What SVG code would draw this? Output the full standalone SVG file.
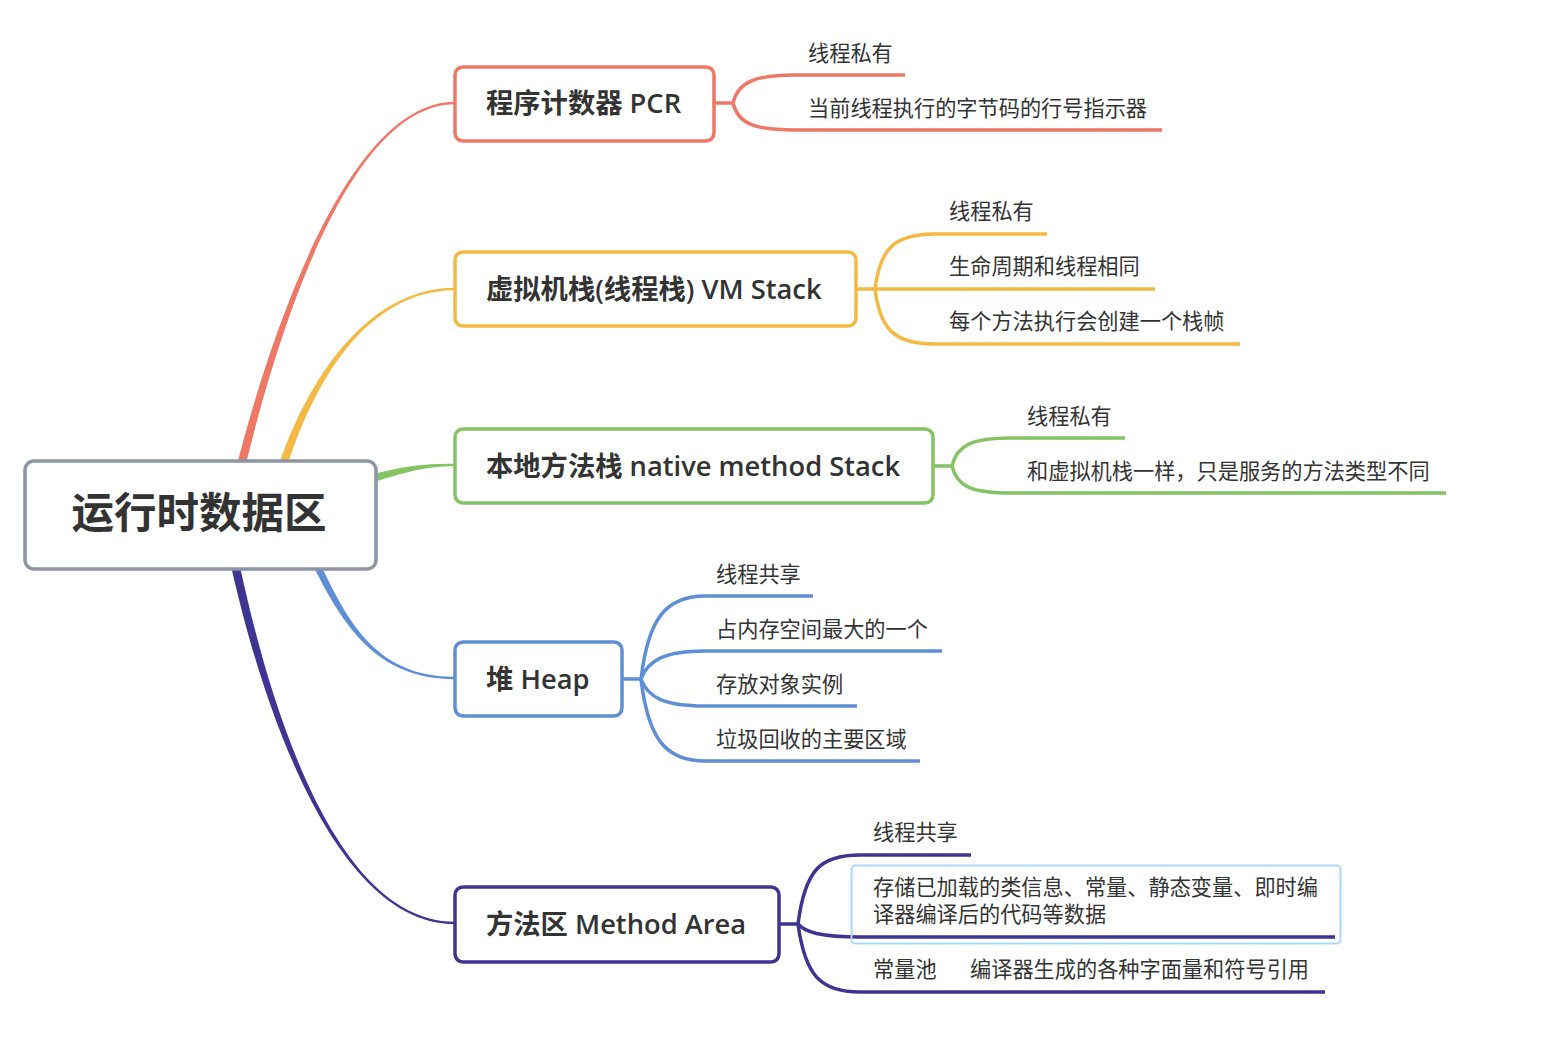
<svg xmlns="http://www.w3.org/2000/svg" width="1556" height="1042" viewBox="0 0 1556 1042">
<style>
.t{font-family:"Open Sans","Noto Sans CJK SC",sans-serif;fill:#333333}
.main{font-size:27.3px;font-weight:600}
.sub{font-size:21.2px}
.root{font-size:42.5px;font-weight:700}
.box{fill:#ffffff;stroke-width:3.5}
.ln{fill:none;stroke-width:3.5}
</style>
<rect width="1556" height="1042" fill="#ffffff"/>
<g id="connectors">
  <path d="M234.4 514.8 C254.4 420.8 330 104.2 455 104.2 L455 101.8 C330 101.8 245.6 419.2 225.6 513.2 Z" fill="#EE7766"/>
  <path d="M274.4 514.8 C294.4 420.8 350 290.2 455 290.2 L455 287.8 C350 287.8 285.6 419.2 265.6 513.2 Z" fill="#F4B942"/>
  <path d="M351.2 488.8 C401.2 473.8 420 466.2 455 466.2 L455 463.8 C420 463.8 398.8 466.2 348.8 481.2 Z" fill="#84C463"/>
  <path d="M291.4 521.8 C331.4 601.8 360 679.2 455 679.2 L455 676.8 C360 676.8 338.6 598.2 298.6 518.2 Z" fill="#5E8FD6"/>
  <path d="M220.6 514.8 C245.6 650.8 320 924.2 455 924.2 L455 921.8 C320 921.8 254.4 649.2 229.4 513.2 Z" fill="#3F3491"/>
  <g stroke="#EE7766" class="ln">
    <path d="M714 103 H733 C738 82 755 75 795 75 H905"/>
    <path d="M733 103 C738 124 755 130 795 130 H1162"/>
  </g>
  <g stroke="#F4B942" class="ln">
    <path d="M856 289 H875 C880 248 895 234 935 234 H1047"/>
    <path d="M875 289 H1155"/>
    <path d="M875 289 C880 330 895 344 935 344 H1240"/>
  </g>
  <g stroke="#84C463" class="ln">
    <path d="M933 466 H952 C957 445 972 438 1012 438 H1125"/>
    <path d="M952 466 C957 487 972 493 1012 493 H1446"/>
  </g>
  <g stroke="#5E8FD6" class="ln">
    <path d="M622 679 H641 C648 620 665 596 705 596 H813"/>
    <path d="M641 679 C648 660 665 651 705 651 H942"/>
    <path d="M641 679 C648 698 665 706 705 706 H857"/>
    <path d="M641 679 C648 738 665 761 705 761 H920"/>
  </g>
  <g stroke="#3F3491" class="ln">
    <path d="M779 924 H798 C805 870 820 855 860 855 H971"/>
    <path d="M798 924 C805 932 820 937 860 937 H1335"/>
    <path d="M798 924 C805 975 820 992 860 992 H1325"/>
  </g>
</g>
<g id="root">
  <rect x="25" y="461" width="351" height="108" rx="9" class="box" stroke="#8B95A7"/>
  <text x="199" y="528" class="t root" text-anchor="middle">运行时数据区</text>
</g>
<g id="pcr">
  <rect x="455" y="67" width="259" height="74" rx="8" class="box" stroke="#EE7766"/>
  <text x="486" y="113" class="t main">程序计数器 PCR</text>
</g>
<g id="pcr-1"><text x="808" y="61" class="t sub">线程私有</text></g>
<g id="pcr-2"><text x="808" y="116" class="t sub">当前线程执行的字节码的行号指示器</text></g>
<g id="vmstack">
  <rect x="455" y="252" width="401" height="74" rx="8" class="box" stroke="#F4B942"/>
  <text x="486" y="299" class="t main">虚拟机栈(线程栈) VM Stack</text>
</g>
<g id="vm-1"><text x="949" y="219" class="t sub">线程私有</text></g>
<g id="vm-2"><text x="949" y="274" class="t sub">生命周期和线程相同</text></g>
<g id="vm-3"><text x="949" y="329" class="t sub">每个方法执行会创建一个栈帧</text></g>
<g id="native">
  <rect x="455" y="429" width="478" height="74" rx="8" class="box" stroke="#84C463"/>
  <text x="486" y="476" class="t main">本地方法栈 native method Stack</text>
</g>
<g id="native-1"><text x="1027" y="424" class="t sub">线程私有</text></g>
<g id="native-2"><text x="1027" y="479" class="t sub">和虚拟机栈一样，只是服务的方法类型不同</text></g>
<g id="heap">
  <rect x="455" y="642" width="167" height="74" rx="8" class="box" stroke="#5E8FD6"/>
  <text x="486" y="689" class="t main">堆 Heap</text>
</g>
<g id="heap-1"><text x="716" y="582" class="t sub">线程共享</text></g>
<g id="heap-2"><text x="716" y="637" class="t sub">占内存空间最大的一个</text></g>
<g id="heap-3"><text x="716" y="692" class="t sub">存放对象实例</text></g>
<g id="heap-4"><text x="716" y="747" class="t sub">垃圾回收的主要区域</text></g>
<g id="method">
  <rect x="455" y="887" width="324" height="75" rx="8" class="box" stroke="#3F3491"/>
  <text x="486" y="934" class="t main">方法区 Method Area</text>
</g>
<g id="method-1"><text x="873" y="840" class="t sub">线程共享</text></g>
<g id="method-2">
  <rect x="851.5" y="865.5" width="489" height="78" rx="4" fill="none" stroke="#A9D9F7" stroke-width="2"/>
  <text x="873" y="895" class="t sub">存储已加载的类信息、常量、静态变量、即时编</text>
  <text x="873" y="922" class="t sub">译器编译后的代码等数据</text>
</g>
<g id="method-3">
  <text x="873" y="977" class="t sub">常量池</text>
  <text x="970" y="977" class="t sub">编译器生成的各种字面量和符号引用</text>
</g>
</svg>
